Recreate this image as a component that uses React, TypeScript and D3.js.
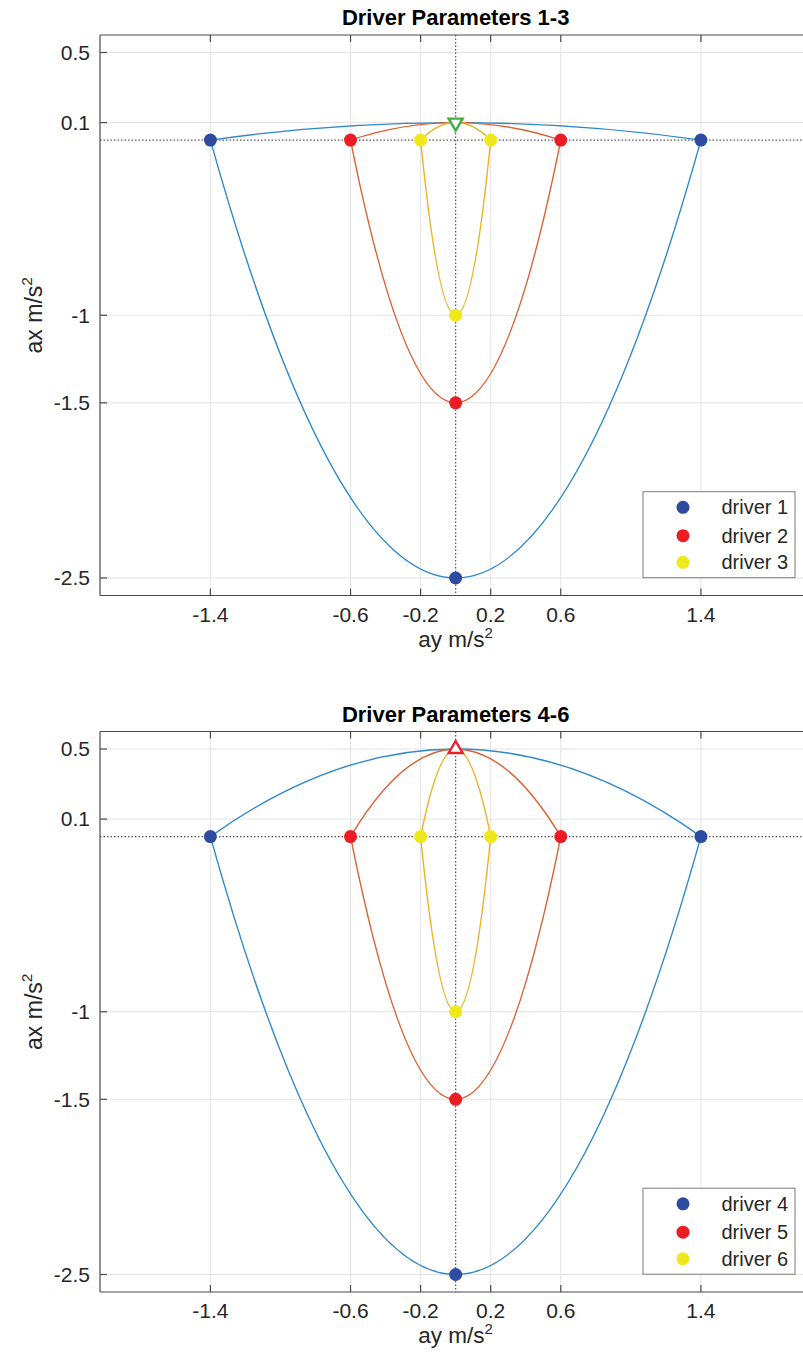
import React from "react";
import * as d3 from "d3";

const W = 803;
const H = 1363;

// ---- data ----
const panelTitles = ["Driver Parameters 1-3", "Driver Parameters 4-6"];
const driverNames = [
  ["driver 1", "driver 2", "driver 3"],
  ["driver 4", "driver 5", "driver 6"],
];
const ayLimits = [1.4, 0.6, 0.2]; // lateral acceleration limit per driver (m/s^2)
const axMinValues = [-2.5, -1.5, -1]; // longitudinal deceleration limit per driver
const axPeakValues = [0.1, 0.5]; // acceleration peak for each panel
const xTicks = [-1.4, -0.6, -0.2, 0.2, 0.6, 1.4];
const yTicks = [-2.5, -1.5, -1, 0.1, 0.5];
const xDomain: [number, number] = [-2.03, 2.03];
const yDomain: [number, number] = [-2.6, 0.6];

// ---- styles ----
const lineColors = ["#2F88CC", "#DD6035", "#EDB126"];
const dotColors = ["#2D4BA0", "#ED1C24", "#EFE81A"];
const peakColors = ["#3FAF3F", "#E8202A"];
const FONT = "'Liberation Sans', Arial, Helvetica, sans-serif";

const left = 100;
const plotW = 711.3;
const plotH = 560.5;
const panelTops = [35, 731.5];

function fmt(v: number) {
  return String(v);
}

function Panel({ idx }: { idx: number }) {
  const top = panelTops[idx];
  const x = d3.scaleLinear().domain(xDomain).range([left, left + plotW]);
  const y = d3.scaleLinear().domain(yDomain).range([top + plotH, top]);
  const bottom = top + plotH;
  const right = left + plotW;
  const peak = axPeakValues[idx];
  const tickLen = 7;

  const curvePath = (a: number, vertex: number) => {
    const p = d3.path();
    p.moveTo(x(-a), y(0));
    // quadratic Bezier == parabola through (-a,0), (0,vertex), (a,0)
    p.quadraticCurveTo(x(0), y(2 * vertex), x(a), y(0));
    return p.toString();
  };

  // triangle marker
  const cx = x(0);
  const cy = y(peak);
  const tw = 14;
  const th = 12;
  const up = idx === 1;
  const tri = up
    ? `M${cx},${cy - (2 * th) / 3}L${cx + tw / 2},${cy + th / 3}L${cx - tw / 2},${cy + th / 3}Z`
    : `M${cx},${cy + (2 * th) / 3}L${cx + tw / 2},${cy - th / 3}L${cx - tw / 2},${cy - th / 3}Z`;

  const legX = 643;
  const legY = top + 456.7;
  const legW = 152;
  const legH = 86;
  const rowY = [15.6, 44, 70.6];

  return (
    <g>
      <defs>
        <clipPath id={`clip${idx}`}>
          <rect x={left} y={top} width={plotW} height={plotH} />
        </clipPath>
      </defs>
      <rect x={left} y={top} width={plotW} height={plotH} fill="#fff" />
      {/* grid */}
      {xTicks.map((t) => (
        <line key={"gx" + t} x1={x(t)} x2={x(t)} y1={top} y2={bottom} stroke="#e3e3e3" strokeWidth={1} />
      ))}
      {yTicks.map((t) => (
        <line key={"gy" + t} x1={left} x2={right} y1={y(t)} y2={y(t)} stroke="#e3e3e3" strokeWidth={1} />
      ))}
      <g clipPath={`url(#clip${idx})`}>
        {/* dotted zero lines */}
        <line x1={left} x2={right} y1={y(0)} y2={y(0)} stroke="#555" strokeWidth={1.2} strokeDasharray="1.5 2" />
        <line x1={x(0)} x2={x(0)} y1={top} y2={bottom} stroke="#555" strokeWidth={1.2} strokeDasharray="1.5 2" />
        {/* curves */}
        {ayLimits.map((a, i) => (
          <g key={"c" + i}>
            <path d={curvePath(a, peak)} fill="none" stroke={lineColors[i]} strokeWidth={1.4} />
            <path d={curvePath(a, axMinValues[i])} fill="none" stroke={lineColors[i]} strokeWidth={1.4} />
          </g>
        ))}
        {/* markers */}
        {ayLimits.map((a, i) => (
          <g key={"m" + i} fill={dotColors[i]}>
            <circle cx={x(-a)} cy={y(0)} r={6.5} />
            <circle cx={x(a)} cy={y(0)} r={6.5} />
            <circle cx={x(0)} cy={y(axMinValues[i])} r={6.5} />
          </g>
        ))}
        <path d={tri} fill="#fff" stroke={peakColors[idx]} strokeWidth={2.4} strokeLinejoin="miter" />
      </g>
      {/* axes box: left, top, bottom */}
      <g stroke="#4a4a4a" strokeWidth={1.2}>
        <line x1={left} x2={left} y1={top} y2={bottom} />
        <line x1={left} x2={right} y1={top} y2={top} />
        <line x1={left} x2={right} y1={bottom} y2={bottom} />
        {xTicks.map((t) => (
          <g key={"tx" + t}>
            <line x1={x(t)} x2={x(t)} y1={bottom} y2={bottom - tickLen} />
            <line x1={x(t)} x2={x(t)} y1={top} y2={top + tickLen} />
          </g>
        ))}
        {yTicks.map((t) => (
          <line key={"ty" + t} x1={left} x2={left + tickLen} y1={y(t)} y2={y(t)} />
        ))}
      </g>
      {/* tick labels */}
      <g fontFamily={FONT} fontSize={21} fill="#262626">
        {xTicks.map((t) => (
          <text key={"lx" + t} x={x(t)} y={bottom + 26} textAnchor="middle">
            {fmt(t)}
          </text>
        ))}
        {yTicks.map((t) => (
          <text key={"ly" + t} x={left - 10} y={y(t)} dy="0.35em" textAnchor="end">
            {fmt(t)}
          </text>
        ))}
      </g>
      {/* axis labels */}
      <text x={x(0)} y={bottom + 51} textAnchor="middle" fontFamily={FONT} fontSize={22.5} fill="#262626">
        ay m/s<tspan fontSize={15} dy={-9}>2</tspan>
      </text>
      <text
        transform={`translate(42,${(top + bottom) / 2}) rotate(-90)`}
        textAnchor="middle"
        fontFamily={FONT}
        fontSize={23}
        fill="#262626"
      >
        ax m/s<tspan fontSize={15.5} dy={-10}>2</tspan>
      </text>
      {/* title */}
      <text x={x(0)} y={top - 10} textAnchor="middle" fontFamily={FONT} fontSize={22} fontWeight="bold" fill="#000">
        {panelTitles[idx]}
      </text>
      {/* legend */}
      <g>
        <rect x={legX} y={legY} width={legW} height={legH} fill="#fff" stroke="#7a7a7a" strokeWidth={1} />
        {driverNames[idx].map((n, i) => (
          <g key={n}>
            <circle cx={legX + 40} cy={legY + rowY[i]} r={6.5} fill={dotColors[i]} />
            <text
              x={legX + 78.5}
              y={legY + rowY[i]}
              dy="0.35em"
              fontFamily={FONT}
              fontSize={20}
              fill="#262626"
            >
              {n}
            </text>
          </g>
        ))}
      </g>
    </g>
  );
}

export default function App() {
  return (
    <svg
      width={W}
      height={H}
      viewBox={`0 0 ${W} ${H}`}
      style={{ position: "absolute", left: 0, top: 0, background: "#fff" }}
    >
      <rect x={0} y={0} width={W} height={H} fill="#fff" />
      <Panel idx={0} />
      <Panel idx={1} />
    </svg>
  );
}
